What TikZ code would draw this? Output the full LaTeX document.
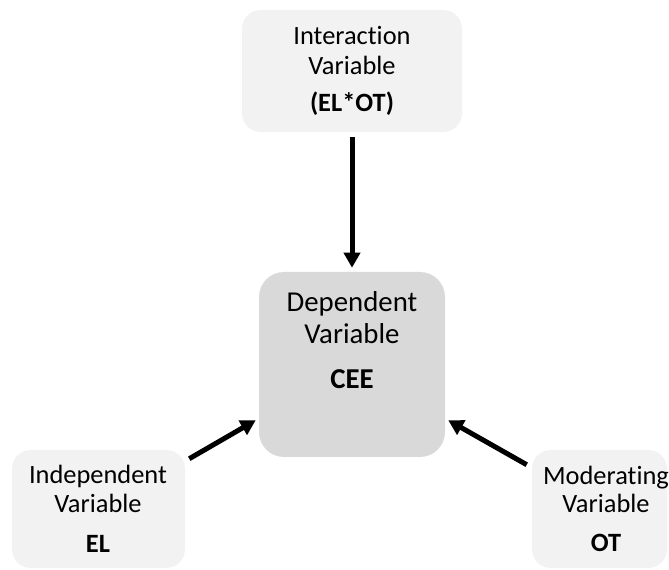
\documentclass[tikz,border=0pt]{standalone}
\usepackage{fontspec}
\setmainfont[Ligatures=NoCommon]{Carlito}
\usetikzlibrary{arrows.meta,calc}
\definecolor{palebox}{HTML}{F2F2F2}
\definecolor{midbox}{HTML}{D9D9D9}
\begin{document}
\begin{tikzpicture}[x=0.75pt,y=-0.75pt,
  sidebox/.style={fill=palebox, draw=none, inner sep=0pt, rounded corners=14pt},
  centerbox/.style={fill=midbox, draw=none, inner sep=0pt, rounded corners=18.75pt},
  small/.style={anchor=base, inner sep=0pt, font=\fontsize{19.8}{22.5}\selectfont},
  large/.style={anchor=base, inner sep=0pt, font=\fontsize{21.6}{25}\selectfont},
  link/.style={line width=3.75pt, -{Triangle[length=11.25pt,width=12pt]}}]
\useasboundingbox (0,0) rectangle (669,570);

% boxes
\node[sidebox, minimum width=165pt, minimum height=91.5pt] (inter) at (352,71) {};
\node[centerbox, minimum width=139.5pt, minimum height=138.75pt] (dep) at (352,364.5) {};
\node[sidebox, minimum width=129.75pt, minimum height=88.5pt] (indep) at (98.5,509) {};
\node[sidebox, minimum width=101.25pt, minimum height=88.5pt] (moder) at (599.5,509) {};

% texts
\node[small] (inter1) at (352,45) {Interaction};
\node[small] (inter2) at (352,75) {Variable};
\node[small] (inter3) at (352,112) {\bfseries (EL*OT)};

\node[large] (dep1) at (352,311.7) {Dependent};
\node[large] (dep2) at (352,343.3) {Variable};
\node[large] (dep3) at (352,388.3) {\bfseries CEE};

\node[small] (indep1) at (98,484) {Independent};
\node[small] (indep2) at (98,513) {Variable};
\node[small] (indep3) at (98,553) {\bfseries EL};

\node[small] (moder1) at (606,485) {Moderating};
\node[small] (moder2) at (606,513) {Variable};
\node[small] (moder3) at (606,552) {\bfseries OT};

% connectors
\draw[link] ($(inter.south)+(0,5)$) -- ($(dep.north)+(0,-4)$);
\draw[link] ($(indep.north east)+(4,9)$) -- ($(dep.south west)+(-3,-37)$);
\draw[link] ($(moder.north west)+(-5,15)$) -- ($(dep.south east)+(3,-37)$);
\end{tikzpicture}
\end{document}
